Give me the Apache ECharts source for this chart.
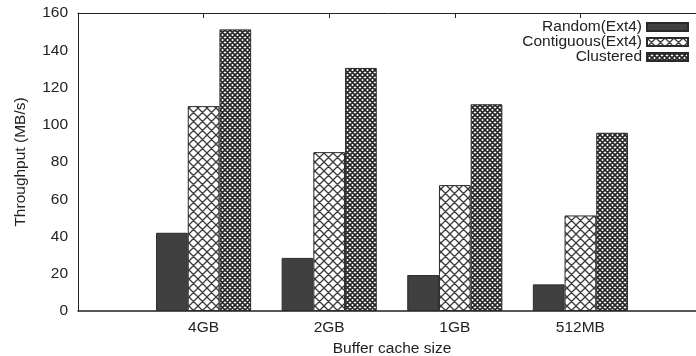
<!DOCTYPE html>
<html>
<head>
<meta charset="utf-8">
<script src="https://cdn.jsdelivr.net/npm/echarts@6/dist/echarts.min.js"></script>
<style>html,body{margin:0;padding:0;background:#fff;}#c{width:696px;height:356px;}</style>
</head>
<body>
<div id="c"></div>
<script>
const categories = ['4GB', '2GB', '1GB', '512MB'];
const seriesNames = ['Random(Ext4)', 'Contiguous(Ext4)', 'Clustered'];
const randomExt4 = [42, 28.5, 19.3, 14.3];
const contiguousExt4 = [110, 85.3, 67.6, 51.3];
const clustered = [151.2, 130.5, 111, 95.7];
const yTicks = [0, 20, 40, 60, 80, 100, 120, 140, 160];

function makePattern(size, lineW, stroke) {
  const c = document.createElement('canvas');
  c.width = size; c.height = size;
  const ctx = c.getContext('2d');
  ctx.fillStyle = '#ffffff';
  ctx.fillRect(0, 0, size, size);
  ctx.strokeStyle = stroke;
  ctx.lineWidth = lineW;
  ctx.beginPath();
  for (let k = -1; k <= 1; k++) {
    ctx.moveTo(k * size, 0); ctx.lineTo(k * size + size, size);
    ctx.moveTo(k * size + size, 0); ctx.lineTo(k * size, size);
  }
  ctx.stroke();
  return c;
}
const contigPat = makePattern(9, 1.3, '#3a3a3a');
const clustPat = makePattern(5, 1.7, '#262626');

const pad = v => ['-'].concat(v, ['-']);
const xCats = [''].concat(categories, ['']);
const font = 'Liberation Sans, Arial, Helvetica, sans-serif';

const chart = echarts.init(document.getElementById('c'), null, {renderer: 'canvas'});
const barCommon = {
  type: 'bar', barWidth: 31.7, barGap: '0%',
  xAxisIndex: 0, yAxisIndex: 0
};
chart.setOption({
  animation: false,
  backgroundColor: '#ffffff',
  textStyle: {fontFamily: font},
  grid: {left: 78, right: -10, top: 13, bottom: 45, containLabel: false, outerBoundsMode: 'none'},
  legend: {
    orient: 'vertical', right: 7, top: 19, align: 'right', padding: 0,
    icon: 'rect',
    itemWidth: 41, itemHeight: 8, itemGap: -1,
    textStyle: {fontFamily: font, fontSize: 15.5, color: '#222'},
    data: seriesNames
  },
  xAxis: [{
    type: 'category', data: xCats, boundaryGap: false, position: 'bottom',
    axisLine: {show: true, lineStyle: {color: '#222', width: 1.5}},
    axisTick: {show: false},
    axisLabel: {fontFamily: font, fontSize: 15.5, color: '#222', margin: 9},
    splitLine: {show: false},
    name: 'Buffer cache size', nameLocation: 'middle', nameGap: 27,
    nameTextStyle: {fontFamily: font, fontSize: 15.5, color: '#222'}
  }, {
    type: 'category', data: xCats, boundaryGap: false, position: 'top',
    axisLine: {show: true, lineStyle: {color: '#222', width: 1}},
    axisTick: {show: true, inside: true, length: 5, lineStyle: {color: '#222'},
      interval: (i) => i > 0 && i < xCats.length - 1},
    axisLabel: {show: false}, splitLine: {show: false}
  }],
  yAxis: {
    type: 'value', min: yTicks[0], max: yTicks[yTicks.length - 1], interval: 20,
    axisLine: {show: true, lineStyle: {color: '#222', width: 1}},
    axisTick: {show: false},
    splitLine: {show: false},
    axisLabel: {fontFamily: font, fontSize: 15.5, color: '#222', margin: 10},
    name: 'Throughput (MB/s)', nameLocation: 'middle', nameGap: 49,
    nameTextStyle: {fontFamily: font, fontSize: 15.5, color: '#222'}
  },
  series: [
    Object.assign({}, barCommon, {name: seriesNames[0], data: pad(randomExt4),
      itemStyle: {color: '#404040', borderColor: '#2a2a2a', borderWidth: 1}}),
    Object.assign({}, barCommon, {name: seriesNames[1], data: pad(contiguousExt4),
      itemStyle: {color: {image: contigPat, repeat: 'repeat'}, borderColor: '#2a2a2a', borderWidth: 1}}),
    Object.assign({}, barCommon, {name: seriesNames[2], data: pad(clustered),
      itemStyle: {color: {image: clustPat, repeat: 'repeat'}, borderColor: '#2a2a2a', borderWidth: 1}})
  ]
});
</script>
</body>
</html>
